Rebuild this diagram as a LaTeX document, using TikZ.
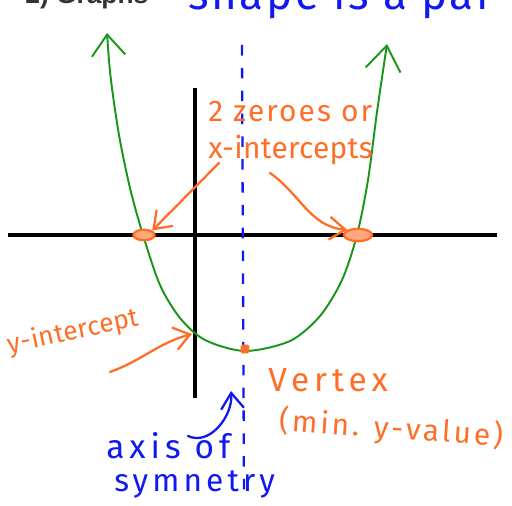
\documentclass[tikz,border=0pt]{standalone}
\usepackage{fontspec}
\setmainfont{Fira Sans}
\newfontfamily\titlefont{Liberation Sans}
\usetikzlibrary{arrows.meta,positioning,shapes.geometric,calc}
\definecolor{penorange}{RGB}{255,110,40}
\definecolor{penblue}{RGB}{15,25,240}
\definecolor{pengreen}{RGB}{25,150,25}

\tikzset{
  hand/.style={font=\fontsize{17}{20}\selectfont\addfontfeatures{LetterSpace=1}, inner sep=0pt},
  orangepen/.style={draw=penorange, line width=1.3pt, line cap=round},
  bluepen/.style={draw=penblue, line width=1.3pt, line cap=round},
  barb/.style={-{Straight Barb[length=9pt,width=13pt]}}
}

\begin{document}
\begin{tikzpicture}[x=0.02cm, y=-0.02cm]
  \useasboundingbox (0,0) rectangle (512,506);

  % header texts, cut by the page edge
  \node[font=\titlefont\bfseries\fontsize{15}{18}\selectfont, text=black!80, anchor=base west, inner sep=0pt] (title) at (25,4) {2) Graphs};
  \node[text=penblue, font=\fontsize{25}{30}\selectfont\addfontfeatures{LetterSpace=6}, anchor=base west, inner sep=0pt] (shape) at (188,10) {shape is a par};

  % axes
  \draw[line width=2.8pt] (8,235) -- (497,235);
  \draw[line width=2.8pt] (195,88) -- (195,398);

  % axis of symmetry
  \draw[penblue, line width=1.3pt, dash pattern=on 6pt off 7pt] (242,45) -- (244,500);

  % the parabola
  \draw[pengreen, line width=1.1pt, {Straight Barb[length=12pt,width=19pt]}-{Straight Barb[length=14pt,width=20pt]}]
    plot[smooth] coordinates {(107,33) (111,80) (119,135) (130,188) (143,235) (160,285)
      (180,318) (205,340) (245,351) (290,341) (320,316) (342,280) (357,235) (368,180)
      (377,112) (387,44)};

  % marked points
  \node[ellipse, draw=penorange, fill=penorange!60, line width=1.3pt, minimum width=12pt, minimum height=6pt, inner sep=0pt] (xleft) at (144,235) {};
  \node[ellipse, draw=penorange, fill=penorange!60, line width=1.3pt, minimum width=16pt, minimum height=7pt, inner sep=0pt] (xright) at (358,235) {};
  \node[rectangle, fill=penorange, minimum size=5pt, inner sep=0pt, rounded corners=1pt] (vertex) at (245,349) {};
  \coordinate (yint) at (192,334);
  \coordinate (axisarrow) at (231,391);

  % labels
  \node[hand, text=penorange, anchor=west, font=\fontsize{17}{20}\selectfont\addfontfeatures{LetterSpace=7}] (zeroes) at (208,112) {2 zeroes or};
  \node[hand, text=penorange, anchor=west] (xints) at (208,150) {x-intercepts};
  \node[hand, text=penorange, rotate=12, anchor=west, font=\fontsize{15}{18}\selectfont\addfontfeatures{LetterSpace=1}] (ylbl) at (8,346) {y-intercept};
  \node[hand, text=penorange, anchor=west, font=\fontsize{19}{22}\selectfont\addfontfeatures{LetterSpace=15}] (vertexlbl) at (268,380) {Vertex};
  \node[hand, text=penorange, rotate=-4, anchor=west, font=\fontsize{17}{20}\selectfont\addfontfeatures{LetterSpace=10}] (minlbl) at (279,421) {(min. y-value)};
  \node[hand, text=penblue, anchor=west, font=\fontsize{19}{22}\selectfont\addfontfeatures{LetterSpace=15}] (axislbl) at (106,446) {axis of};
  \node[hand, text=penblue, anchor=west, font=\fontsize{18}{22}\selectfont\addfontfeatures{LetterSpace=13}] (symlbl) at (114,484) {symnetry};

  % connectors
  \draw[orangepen, barb] (219,163) -- (xleft.north east);
  \draw[orangepen, barb] (270,173) to[out=-35, in=175] (xright.north west);
  \draw[orangepen, barb] (110,372) to[out=20, in=195] (yint);
  \draw[bluepen, barb] (188,436) to[out=-25, in=-85] (axisarrow);
\end{tikzpicture}
\end{document}
